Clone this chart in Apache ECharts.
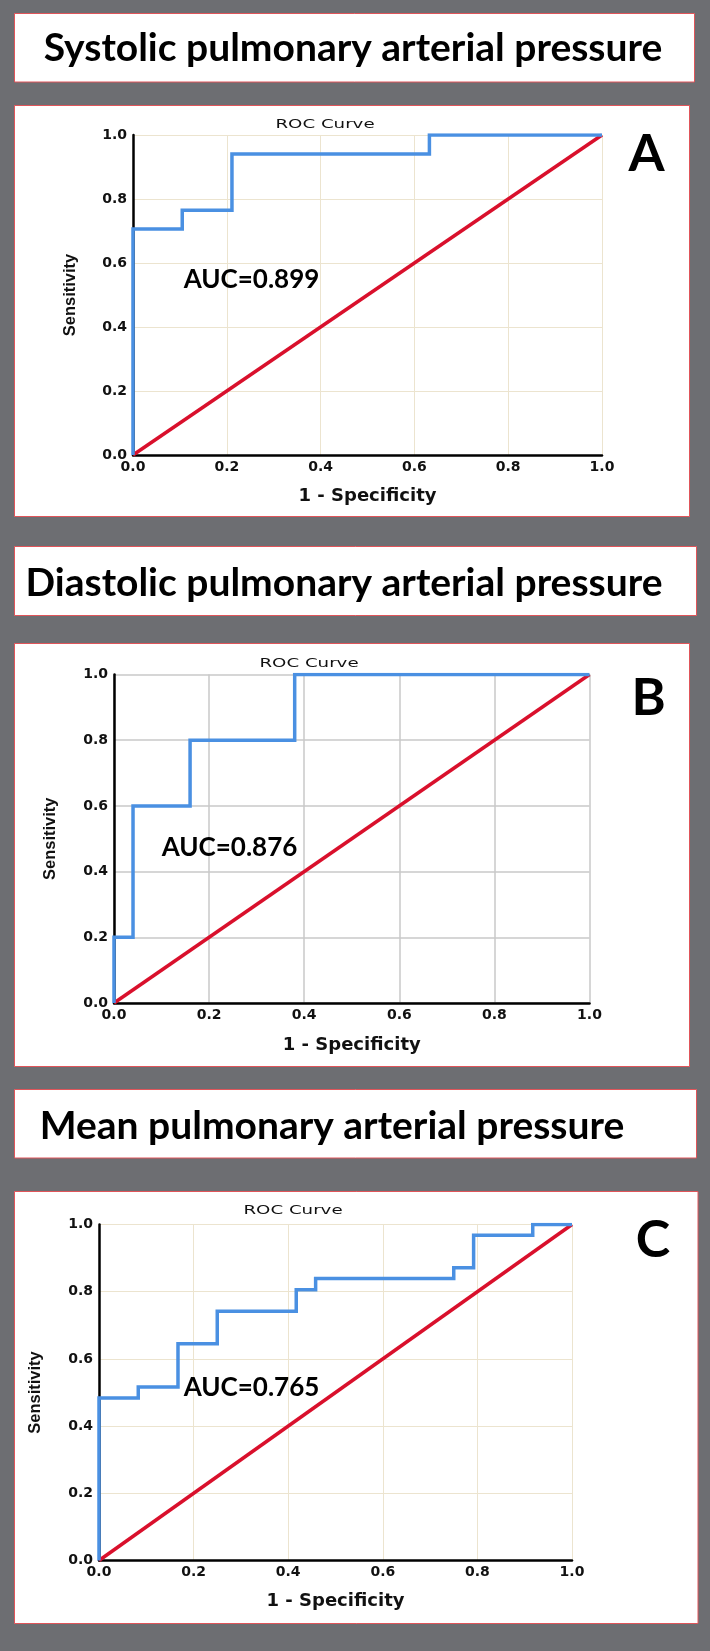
<!DOCTYPE html>
<html>
<head>
<meta charset="utf-8">
<script src="https://cdn.jsdelivr.net/npm/echarts@6/dist/echarts.min.js"></script>
<style>
html,body{margin:0;padding:0;background:#6d6e72;}
#c{width:710px;height:1651px;}
</style>
</head>
<body>
<div id="c"></div>
<script>
// ---- data ----
const panelTitles = ['Systolic pulmonary arterial pressure', 'Diastolic pulmonary arterial pressure', 'Mean pulmonary arterial pressure'];
const panelLetters = ['A', 'B', 'C'];
const aucLabels = ['AUC=0.899', 'AUC=0.876', 'AUC=0.765'];
const chartTitle = 'ROC Curve';
const xAxisTitle = '1 - Specificity';
const yAxisTitle = 'Sensitivity';
const axisMin = 0, axisMax = 1, axisStep = 0.2;

const fprA = [0, 0, 0.105, 0.211, 0.632, 1];
const tprA = [0, 0.706, 0.765, 0.941, 1, 1];

const fprB = [0, 0, 0.04, 0.16, 0.38, 1];
const tprB = [0, 0.2, 0.6, 0.8, 1, 1];

const fprC = [0, 0, 0.083, 0.167, 0.25, 0.417, 0.458, 0.75, 0.792, 0.917, 1];
const tprC = [0, 0.484, 0.516, 0.645, 0.742, 0.806, 0.839, 0.871, 0.968, 1, 1];

const refX = [0, 1];
const refY = [0, 1];

// ---- layout / style ----
const GRIDS = [
  {left: 133, top: 135, width: 469, height: 320},
  {left: 114, top: 674.5, width: 475.5, height: 328.5},
  {left: 99, top: 1224.5, width: 473, height: 336}
];
const GRID_COLORS = ['#ece4cf', '#c8c8c8', '#ece4cf'];
const GRID_WIDTHS = [1, 1.5, 1];
const X_NAME_GAP = [32, 33, 32];
const Y_NAME_GAP = [54, 55, 55];
const TITLE_BOXES = [[14, 13, 680, 68.5], [14, 546, 682, 69], [14, 1089, 682, 68.5]];
const PANEL_BOXES = [[14, 105, 675, 411], [14, 643, 675, 423], [14, 1191, 683.5, 432]];
const TITLE_POS = [[353, 48], [344, 583], [332, 1126]];
const LETTER_POS = [[646.5, 154], [648.5, 698], [653, 1240]];
const AUC_POS = [[251.5, 280], [229.5, 848], [251.5, 1388]];
const ROC_POS = [[325, 125], [309, 664], [293, 1211]];
const BLUE = '#4a90e2', RED = '#d9102c', BORDER = '#e0555a';

const rocSets = [[fprA, tprA], [fprB, tprB], [fprC, tprC]];

const chart = echarts.init(document.getElementById('c'), null, {renderer: 'canvas'});

const grid = GRIDS.map(g => Object.assign({containLabel: false}, g));
const xAxis = GRIDS.map((g, i) => ({
  gridIndex: i, type: 'value', min: axisMin, max: axisMax, interval: axisStep, z: 5,
  axisLine: {show: true, onZero: false, lineStyle: {color: '#000', width: 2.5}},
  axisTick: {show: false},
  axisLabel: {color: '#111', fontFamily: 'DejaVu Sans', fontWeight: 'bold', fontSize: 14, margin: 5, formatter: v => v.toFixed(1)},
  splitLine: {show: true, lineStyle: {color: GRID_COLORS[i], width: GRID_WIDTHS[i]}},
  name: xAxisTitle, nameLocation: 'middle', nameGap: X_NAME_GAP[i],
  nameTextStyle: {fontFamily: 'DejaVu Sans', fontWeight: 'bold', fontSize: 18, color: '#111'}
}));
const yAxis = GRIDS.map((g, i) => ({
  gridIndex: i, type: 'value', min: axisMin, max: axisMax, interval: axisStep, z: 5,
  axisLine: {show: true, onZero: false, lineStyle: {color: '#000', width: 2.5}},
  axisTick: {show: false},
  axisLabel: {color: '#111', fontFamily: 'DejaVu Sans', fontWeight: 'bold', fontSize: 14, margin: 6, formatter: v => v.toFixed(1)},
  splitLine: {show: true, lineStyle: {color: GRID_COLORS[i], width: GRID_WIDTHS[i]}},
  name: yAxisTitle, nameLocation: 'middle', nameGap: Y_NAME_GAP[i],
  nameTextStyle: {fontFamily: 'Liberation Sans', fontWeight: 'bold', fontSize: 16.5, color: '#111'}
}));

const series = [];
rocSets.forEach(([fx, ty], i) => {
  series.push({
    type: 'line', xAxisIndex: i, yAxisIndex: i, z: 10,
    data: refX.map((x, k) => [x, refY[k]]),
    showSymbol: false, silent: true, animation: false,
    lineStyle: {color: RED, width: 3.5}
  });
  series.push({
    type: 'line', xAxisIndex: i, yAxisIndex: i, z: 11, step: 'end',
    data: fx.map((x, k) => [x, ty[k]]),
    showSymbol: false, silent: true, animation: false,
    lineStyle: {color: BLUE, width: 3.5, join: 'miter'}
  });
});

const elements = [];
TITLE_BOXES.concat(PANEL_BOXES).forEach(b => {
  elements.push({type: 'rect', z: 1, shape: {x: b[0] + 0.5, y: b[1] + 0.5, width: b[2], height: b[3]},
    style: {fill: '#ffffff', stroke: BORDER, lineWidth: 1}});
});
panelTitles.forEach((t, i) => {
  elements.push({type: 'text', z: 20, x: TITLE_POS[i][0], y: TITLE_POS[i][1],
    style: {text: t, fill: '#000', fontFamily: 'Lato', fontWeight: 'bold', fontSize: 39, align: 'center', verticalAlign: 'middle'}});
  elements.push({type: 'text', z: 20, x: LETTER_POS[i][0], y: LETTER_POS[i][1],
    style: {text: panelLetters[i], fill: '#000', fontFamily: 'Lato', fontWeight: 'bold', fontSize: 52, align: 'center', verticalAlign: 'middle'}});
  elements.push({type: 'text', z: 20, x: AUC_POS[i][0], y: AUC_POS[i][1],
    style: {text: aucLabels[i], fill: '#000', fontFamily: 'Lato', fontWeight: 'bold', fontSize: 26, align: 'center', verticalAlign: 'middle'}});
  elements.push({type: 'text', z: 20, x: ROC_POS[i][0], y: ROC_POS[i][1], scaleX: 1.4,
    style: {text: chartTitle, fill: '#111', fontFamily: 'DejaVu Sans', fontSize: 13, align: 'center', verticalAlign: 'middle'}});
});

chart.setOption({
  backgroundColor: '#6d6e72',
  animation: false,
  grid, xAxis, yAxis, series,
  graphic: {elements}
});
</script>
</body>
</html>
